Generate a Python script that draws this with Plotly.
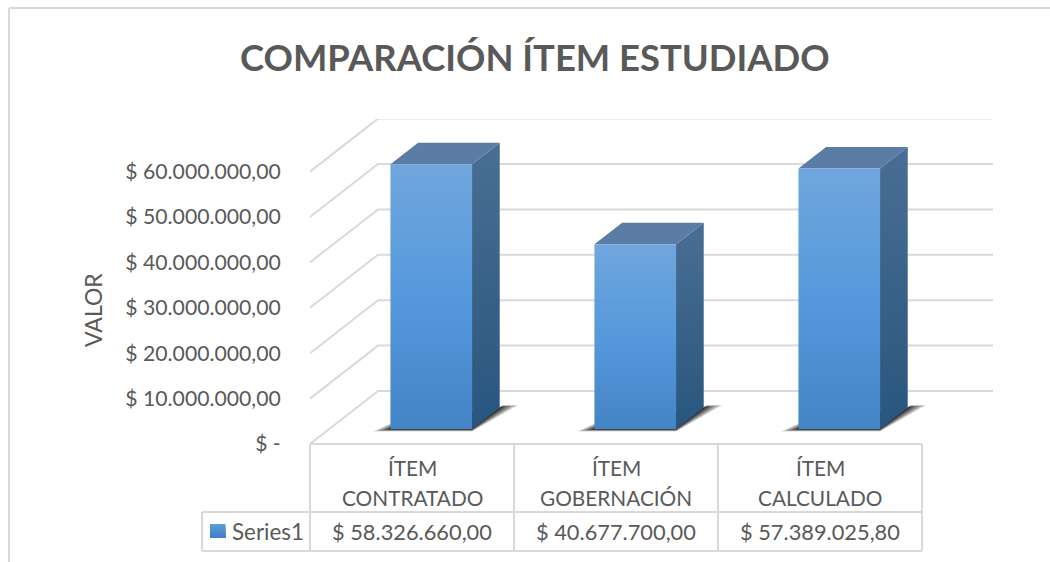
"""Comparación de ítem: fake-3D Excel column chart with a data table under it."""
import plotly.graph_objects as go

CATEGORIES = [["ÍTEM", "CONTRATADO"], ["ÍTEM", "GOBERNACIÓN"], ["ÍTEM", "CALCULADO"]]
SERIES_NAME = "Series1"
VALUES = [58326660.00, 40677700.00, 57389025.80]
VALUE_LABELS = ["$ 58.326.660,00", "$ 40.677.700,00", "$ 57.389.025,80"]
TICK_VALUES = [0, 10e6, 20e6, 30e6, 40e6, 50e6, 60e6]
TICK_LABELS = ["$ -", "$ 10.000.000,00", "$ 20.000.000,00", "$ 30.000.000,00",
               "$ 40.000.000,00", "$ 50.000.000,00", "$ 60.000.000,00"]

W, H = 1050, 562
FONT = "Lato"
TEXT = "#595959"
GRID = "#d9d9d9"

# plot area in pixels, floor front edge sits on the bottom of it
L, R, T, B = 310, 993, 119, 444
PX_PER_CAT = 204
PX_PER_UNIT = 45.4 / 10e6
X_RANGE = [-0.5, -0.5 + (R - L) / PX_PER_CAT]
Y_RANGE = [0, (B - T) / PX_PER_UNIT]

# what one full step of chart depth does on the screen
DEPTH_X = 68 / PX_PER_CAT
DEPTH_Y = 53 / PX_PER_UNIT
BAR_WIDTH = 0.4
BAR_D0, BAR_D1 = 0.283, 0.69

FRONT = [[0, "#4384c6"], [0.5, "#5599dc"], [1, "#70a6dd"]]
SIDE = [[0, "#28567f"], [1, "#4a6e93"]]
TOP = [[0, "#5a7ca5"], [1, "#5a7ca5"]]
KEY_BANDS = ["#5b9bd5", "#5596d2", "#4f91cf", "#4a8ccc", "#4587c8", "#3f81c4"]


def proj(c, v, d=0.0):
    return c + d * DEPTH_X, v + d * DEPTH_Y


def paper_x(px):
    return (px - L) / (R - L)


def paper_y(py):
    return (B - py) / (B - T)


def face(corners, scale):
    xs = [p[0] for p in corners] + [corners[0][0]]
    ys = [p[1] for p in corners] + [corners[0][1]]
    return go.Scatter(x=xs, y=ys, mode="lines", line=dict(width=0), fill="toself",
                      fillgradient=dict(type="vertical", colorscale=scale),
                      hoverinfo="skip", showlegend=False)


fig = go.Figure()

# back wall + left wall gridlines
for v in TICK_VALUES:
    x0, y0 = proj(-0.5, v)
    x1, y1 = proj(-0.5, v, 1)
    x2, y2 = X_RANGE[1], y1
    fig.add_trace(go.Scatter(x=[x0, x1, x2], y=[y0, y1, y2], mode="lines",
                             line=dict(color=GRID, width=2),
                             hoverinfo="skip", showlegend=False))

# soft floor shadows, layered so they blur outward
below = 2.5 / PX_PER_UNIT
for i, v in enumerate(VALUES):
    l, r = i - BAR_WIDTH / 2, i + BAR_WIDTH / 2
    for grow, alpha in [(0.085, 0.16), (0.07, 0.22), (0.05, 0.3), (0.03, 0.4), (0.012, 0.5)]:
        k = grow / 0.085
        corners = [proj(l - grow, -below * k, BAR_D0),
                   proj(r, -below * k, BAR_D0),
                   proj(r + grow * 0.9, 0, BAR_D1 + 0.045 * k),
                   proj(r, 0, BAR_D1 + 0.045 * k),
                   proj(r, 0, BAR_D1), proj(l, 0, BAR_D0 + 0.25 * k)]
        fig.add_trace(go.Scatter(x=[p[0] for p in corners] + [corners[0][0]],
                                 y=[p[1] for p in corners] + [corners[0][1]],
                                 mode="lines", line=dict(width=0), fill="toself",
                                 fillcolor=f"rgba(15,15,15,{alpha})",
                                 hoverinfo="skip", showlegend=False))

# the columns: side, top, then front face
for i, v in enumerate(VALUES):
    l, r = i - BAR_WIDTH / 2, i + BAR_WIDTH / 2
    fig.add_trace(face([proj(r, 0, BAR_D0), proj(r, 0, BAR_D1),
                        proj(r, v, BAR_D1), proj(r, v, BAR_D0)], SIDE))
    fig.add_trace(face([proj(l, v, BAR_D0), proj(r, v, BAR_D0),
                        proj(r, v, BAR_D1), proj(l, v, BAR_D1)], TOP))
    fig.add_trace(face([proj(l, 0, BAR_D0), proj(r, 0, BAR_D0),
                        proj(r, v, BAR_D0), proj(l, v, BAR_D0)], FRONT))

# data table + chart frame
shapes = []


def rule(x0, y0, x1, y1, color=GRID, width=2):
    shapes.append(dict(type="line", xref="paper", yref="paper", x0=paper_x(x0),
                       y0=paper_y(y0), x1=paper_x(x1), y1=paper_y(y1),
                       line=dict(color=color, width=width)))


for py in (444, 512, 551):
    rule(310 if py == 444 else 202, py, 922, py)
for px in (310, 514, 718, 922):
    rule(px, 444, px, 551)
rule(202, 512, 202, 551)
rule(9, 8, 1050, 8)
rule(9, 8, 9, 562)

# legend key, shapes have no gradient so overlapping bands stand in for one
band_h = 14 / len(KEY_BANDS)
for n, col in enumerate(KEY_BANDS):
    shapes.append(dict(type="rect", xref="paper", yref="paper",
                       x0=paper_x(210), x1=paper_x(225.5),
                       y0=paper_y(524 + n * band_h), y1=paper_y(538),
                       fillcolor=col, line=dict(width=0)))

anns = []


def label(text, x, py, size=21, **kw):
    anns.append(dict(text=text, x=x, y=paper_y(py), xref=kw.pop("xref", "x"), yref="paper",
                     showarrow=False, font=dict(family=FONT, size=size, color=TEXT),
                     xanchor=kw.pop("xanchor", "center"), yanchor="middle", **kw))


for i, lines in enumerate(CATEGORIES):
    label(lines[0], i, 467, size=20.8)
    label(lines[1], i, 497, size=20.8)
    label(VALUE_LABELS[i], i, 531, size=21.8)
label(SERIES_NAME, paper_x(230), 531, size=22.4, xref="paper", xanchor="left")
label("VALOR", paper_x(93), 310, size=23, textangle=-90, xref="paper")
label("<b>COMPARACIÓN ÍTEM ESTUDIADO</b>", paper_x(535), 57, size=36.4, xref="paper")

fig.update_layout(
    width=W, height=H, autosize=False, showlegend=False,
    margin=dict(l=L, r=W - R, t=T, b=H - B, pad=0),
    paper_bgcolor="white", plot_bgcolor="rgba(0,0,0,0)",
    font=dict(family=FONT, color=TEXT, size=20),
    shapes=shapes, annotations=anns,
    xaxis=dict(range=X_RANGE, showgrid=False, zeroline=False, showticklabels=False,
               ticks="", fixedrange=True),
    yaxis=dict(range=Y_RANGE, showgrid=False, zeroline=False, tickmode="array",
               tickvals=TICK_VALUES, ticktext=TICK_LABELS, ticks="outside", ticklen=24,
               tickcolor="rgba(0,0,0,0)", tickfont=dict(family=FONT, size=21.2, color=TEXT),
               fixedrange=True),
)

fig.write_html("out.html", config=dict(displayModeBar=False),
               post_script="document.body.style.margin='0';")
